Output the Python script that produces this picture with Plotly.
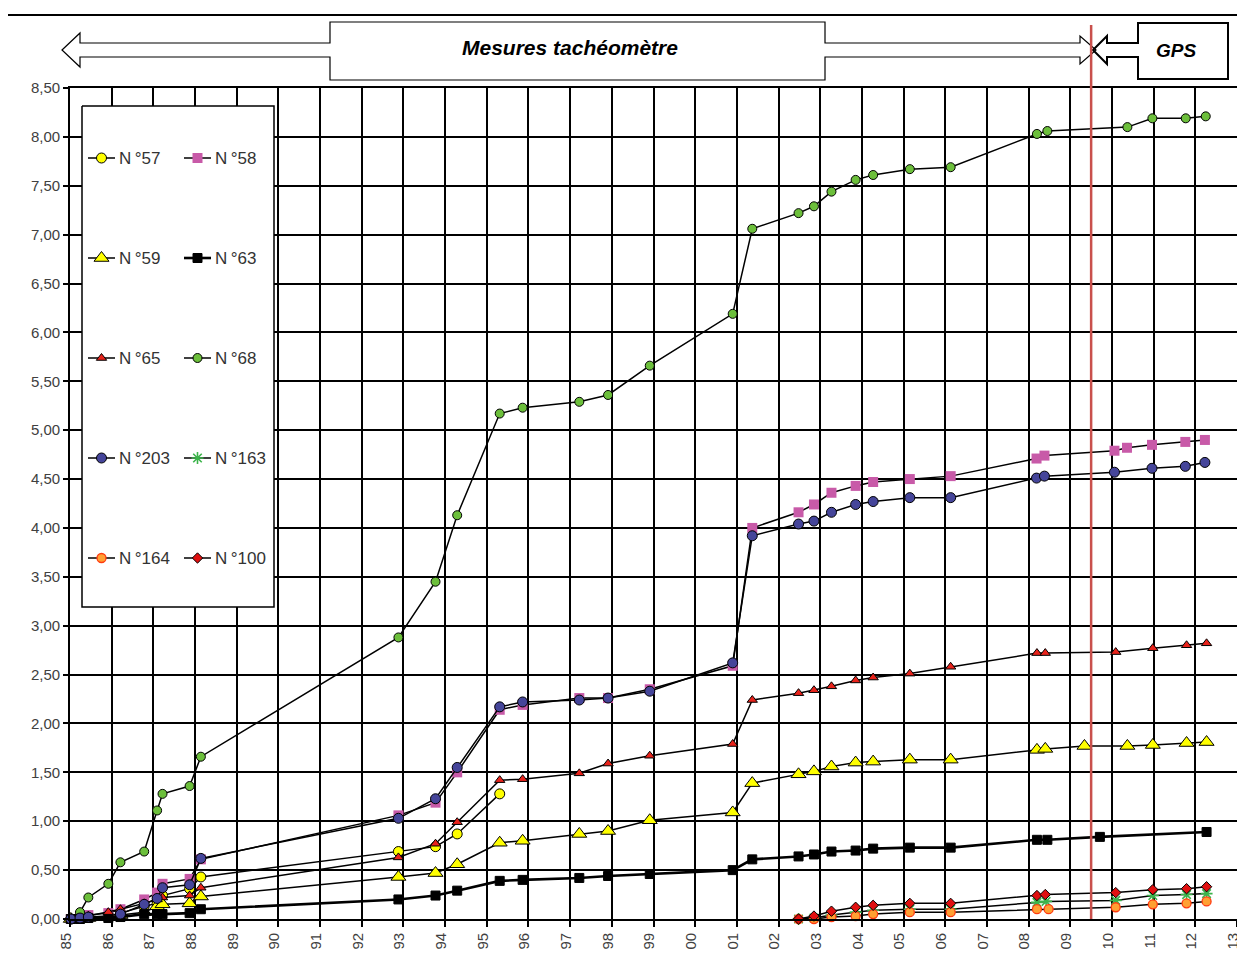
import plotly.graph_objects as go

# ---------------- data ----------------
TICK_YEARS = [1985, 1986, 1987, 1988, 1989, 1990, 1991, 1992, 1993, 1994, 1995, 1996, 1997, 1998,
              1999, 2000, 2001, 2002, 2003, 2004, 2005, 2006, 2007, 2008, 2009, 2010, 2011, 2012, 2013]
TICK_TEXT = ["85", "86", "87", "88", "89", "90", "91", "92", "93", "94", "95", "96", "97", "98",
             "99", "00", "01", "02", "03", "04", "05", "06", "07", "08", "09", "10", "11", "12", "13"]
Y_TICKS = [0.0, 0.5, 1.0, 1.5, 2.0, 2.5, 3.0, 3.5, 4.0, 4.5, 5.0, 5.5, 6.0, 6.5, 7.0, 7.5, 8.0, 8.5]

EARLY_DATES = [1985.02, 1985.24, 1985.44, 1985.92, 1986.21, 1986.78, 1987.09, 1987.22, 1987.87, 1988.14]
MID_DATES = [1992.88, 1993.77, 1994.29, 1995.31, 1995.86, 1997.22, 1997.91, 1998.91, 2000.90, 2001.37]
LATE_DATES = [2002.48, 2002.85, 2003.27, 2003.85, 2004.27, 2005.15, 2006.13]

N57_X = EARLY_DATES + MID_DATES[:4]
N57_Y = [0.00, 0.01, 0.02, 0.03, 0.06, 0.13, 0.16, 0.24, 0.31, 0.43, 0.69, 0.74, 0.87, 1.28]

N58_X = EARLY_DATES + MID_DATES + LATE_DATES + [2008.19, 2008.38, 2010.06, 2010.36, 2010.96, 2011.76, 2012.23]
N58_Y = [0.00, 0.03, 0.04, 0.06, 0.10, 0.20, 0.27, 0.36, 0.41, 0.61,
         1.06, 1.19, 1.50, 2.14, 2.19, 2.26, 2.26, 2.35, 2.59, 4.00,
         4.16, 4.24, 4.36, 4.43, 4.47, 4.50, 4.53,
         4.71, 4.74, 4.79, 4.82, 4.85, 4.88, 4.90]

N59_X = EARLY_DATES + MID_DATES + LATE_DATES + [2008.20, 2008.40, 2009.34, 2010.37, 2010.98, 2011.79, 2012.27]
N59_Y = [0.00, 0.01, 0.01, 0.02, 0.04, 0.07, 0.13, 0.15, 0.16, 0.23,
         0.43, 0.47, 0.56, 0.78, 0.80, 0.87, 0.90, 1.01, 1.09, 1.39,
         1.48, 1.51, 1.56, 1.60, 1.61, 1.63, 1.63,
         1.73, 1.74, 1.77, 1.77, 1.78, 1.80, 1.81]

N63_X = EARLY_DATES + MID_DATES + LATE_DATES + [2008.20, 2008.45, 2009.71, 2012.27]
N63_Y = [0.00, 0.00, 0.01, 0.01, 0.02, 0.05, 0.05, 0.05, 0.06, 0.10,
         0.20, 0.24, 0.29, 0.39, 0.40, 0.42, 0.44, 0.46, 0.50, 0.61,
         0.64, 0.66, 0.69, 0.70, 0.72, 0.73, 0.73,
         0.81, 0.81, 0.84, 0.89]

N65_X = EARLY_DATES + MID_DATES + LATE_DATES + [2008.20, 2008.40, 2010.09, 2010.98, 2011.79, 2012.27]
N65_Y = [0.00, 0.01, 0.03, 0.07, 0.10, 0.16, 0.20, 0.22, 0.24, 0.32,
         0.63, 0.77, 0.99, 1.42, 1.43, 1.49, 1.59, 1.67, 1.79, 2.24,
         2.31, 2.34, 2.38, 2.44, 2.47, 2.51, 2.58,
         2.72, 2.72, 2.73, 2.77, 2.80, 2.82]

N68_X = EARLY_DATES + MID_DATES + LATE_DATES + [2008.20, 2008.45, 2010.37, 2010.97, 2011.77, 2012.25]
N68_Y = [0.00, 0.07, 0.22, 0.36, 0.58, 0.69, 1.11, 1.28, 1.36, 1.66,
         2.88, 3.45, 4.13, 5.17, 5.23, 5.29, 5.36, 5.66, 6.19, 7.06,
         7.22, 7.29, 7.44, 7.56, 7.61, 7.67, 7.69,
         8.03, 8.06, 8.10, 8.19, 8.19, 8.21]

N203_X = EARLY_DATES + MID_DATES + LATE_DATES + [2008.19, 2008.38, 2010.06, 2010.96, 2011.76, 2012.23]
N203_Y = [0.00, 0.01, 0.02, -0.01, 0.05, 0.15, 0.21, 0.32, 0.35, 0.62,
          1.03, 1.23, 1.55, 2.17, 2.22, 2.24, 2.26, 2.33, 2.62, 3.92,
          4.04, 4.07, 4.16, 4.24, 4.27, 4.31, 4.31,
          4.51, 4.53, 4.57, 4.61, 4.63, 4.67]

N163_X = LATE_DATES + [2008.20, 2008.42, 2010.09, 2010.98, 2011.79, 2012.27]
N163_Y = [0.00, 0.01, 0.04, 0.07, 0.09, 0.10, 0.10, 0.17, 0.18, 0.19, 0.24, 0.25, 0.26]

N164_X = LATE_DATES + [2008.20, 2008.48, 2010.09, 2010.98, 2011.79, 2012.27]
N164_Y = [0.00, 0.00, 0.02, 0.03, 0.05, 0.07, 0.07, 0.10, 0.10, 0.12, 0.15, 0.16, 0.18]

N100_X = LATE_DATES + [2008.20, 2008.40, 2010.09, 2010.98, 2011.79, 2012.27]
N100_Y = [0.00, 0.03, 0.08, 0.12, 0.14, 0.16, 0.16, 0.24, 0.25, 0.27, 0.30, 0.31, 0.33]

GPS_START = 2009.5

SERIES = [
    ("N°57", N57_X, N57_Y),
    ("N°58", N58_X, N58_Y),
    ("N°59", N59_X, N59_Y),
    ("N°63", N63_X, N63_Y),
    ("N°65", N65_X, N65_Y),
    ("N°68", N68_X, N68_Y),
    ("N°203", N203_X, N203_Y),
    ("N°163", N163_X, N163_Y),
    ("N°164", N164_X, N164_Y),
    ("N°100", N100_X, N100_Y),
]

# ---------------- styles ----------------
STYLE = {
    "N°57": dict(symbol="circle", size=10, color="#ffff00", line=dict(color="#000", width=1), lw=1.5),
    "N°58": dict(symbol="square", size=10, color="#c85aa8", line=dict(color="#c85aa8", width=0), lw=1.5),
    "N°59": dict(symbol="triangle-up", size=13, color="#ffff00", line=dict(color="#000", width=1), lw=1.5),
    "N°63": dict(symbol="square", size=9, color="#000000", line=dict(color="#000", width=1), lw=2.6),
    "N°65": dict(symbol="triangle-up", size=9, color="#e8231b", line=dict(color="#000", width=1), lw=1.5),
    "N°68": dict(symbol="circle", size=9, color="#6cbf3b", line=dict(color="#000", width=1), lw=1.5),
    "N°203": dict(symbol="circle", size=10, color="#45459a", line=dict(color="#000", width=1), lw=1.5),
    "N°163": dict(symbol="asterisk-open", size=10, color="#3cb44b", line=dict(color="#3cb44b", width=1.6), lw=1.5),
    "N°164": dict(symbol="circle", size=9, color="#ffa033", line=dict(color="#ff3a10", width=1.3), lw=1.5),
    "N°100": dict(symbol="diamond", size=8, color="#e01010", line=dict(color="#000", width=1), lw=1.5),
}

# page geometry: the html body adds an 8 px offset
OFF = 8
PAGE_W, PAGE_H = 1245, 965
PL, PR, PT, PB = 70, 1237, 88, 919          # plot area in page pixels
W, H = PAGE_W - OFF, PAGE_H - OFF
L, T = PL - OFF, PT - OFF
R, B = W - (PR - OFF), H - (PB - OFF)
PW, PH = PR - PL, PB - PT


def px_x(px):
    return (px - PL) / PW


def px_y(py):
    return (PB - py) / PH


def pp(px, py):
    return "%.5f,%.5f" % (px_x(px), px_y(py))


fig = go.Figure()

for name, xs, ys in SERIES:
    s = STYLE[name]
    fig.add_trace(go.Scatter(
        x=xs, y=ys, mode="lines+markers", name=name, showlegend=False,
        cliponaxis=False, hoverinfo="skip",
        line=dict(color="#000", width=s["lw"]),
        marker=dict(symbol=s["symbol"], size=s["size"], color=s["color"], line=s["line"]),
    ))

# ---------------- custom legend box (pixel-coordinate overlay axes) ----------------
fig.add_trace(go.Scatter(
    x=[82, 274, 274, 82, 82], y=[106, 106, 607, 607, 106], xaxis="x2", yaxis="y2",
    mode="lines", fill="toself", fillcolor="white", line=dict(color="#000", width=1.5),
    showlegend=False, hoverinfo="skip"))

annotations = []
rows = [158, 258, 358, 458, 558]
cols = [(88, 115, 117), (184, 211, 213)]
for i, (name, xs, ys) in enumerate(SERIES):
    s = STYLE[name]
    r, c = divmod(i, 2)
    x0, x1, xt = cols[c]
    yy = rows[r]
    fig.add_trace(go.Scatter(
        x=[x0, (x0 + x1) / 2, x1], y=[yy, yy, yy], xaxis="x2", yaxis="y2",
        mode="lines+markers", showlegend=False, hoverinfo="skip", cliponaxis=False,
        line=dict(color="#000", width=s["lw"]),
        marker=dict(symbol=s["symbol"], size=s["size"], color=s["color"], line=s["line"],
                    opacity=[0, 1, 0])))
    label = name.replace("N°", "N\u2009°")
    annotations.append(dict(x=xt, y=yy, xref="x2", yref="y2", text=label, showarrow=False,
                            xanchor="left", yanchor="middle",
                            font=dict(family="Liberation Sans, Arial", size=17, color="#333")))

# ---------------- header arrows ----------------
shapes = []
shapes.append(dict(type="line", xref="paper", yref="paper",
                   x0=px_x(8), x1=px_x(PAGE_W), y0=px_y(15), y1=px_y(15),
                   line=dict(color="#000", width=2.2), layer="above"))

arrow_pts = [(62, 50), (80, 33), (80, 43), (330, 43), (330, 22), (825, 22), (825, 43),
             (1080, 43), (1080, 36), (1096, 50), (1080, 64), (1080, 57), (825, 57),
             (825, 80), (330, 80), (330, 57), (80, 57), (80, 67)]
shapes.append(dict(type="path", xref="paper", yref="paper",
                   path="M " + " L ".join(pp(*p) for p in arrow_pts) + " Z",
                   fillcolor="white", line=dict(color="#000", width=1.2), layer="above"))

gps_pts = [(1093, 50), (1107, 36), (1107, 43), (1138, 43), (1138, 23), (1228, 23),
           (1228, 79), (1138, 79), (1138, 57), (1107, 57), (1107, 64)]
shapes.append(dict(type="path", xref="paper", yref="paper",
                   path="M " + " L ".join(pp(*p) for p in gps_pts) + " Z",
                   fillcolor="rgba(255,255,255,0)", line=dict(color="#000", width=2), layer="above"))

# GPS start line
shapes.append(dict(type="line", xref="x", yref="paper", x0=GPS_START, x1=GPS_START,
                   y0=0, y1=px_y(25), line=dict(color="#c9504c", width=2.5), layer="above"))

annotations.append(dict(xref="paper", yref="paper", x=px_x(570), y=px_y(47),
                        text="<b><i>Mesures tachéomètre</i></b>", showarrow=False,
                        xanchor="center", yanchor="middle",
                        font=dict(family="Liberation Sans, Arial", size=21, color="#000")))
annotations.append(dict(xref="paper", yref="paper", x=px_x(1176), y=px_y(50),
                        text="<b><i>GPS</i></b>", showarrow=False,
                        xanchor="center", yanchor="middle",
                        font=dict(family="Liberation Sans, Arial", size=19, color="#000")))

fig.update_layout(
    width=W, height=H, margin=dict(l=L, r=R, t=T, b=B, pad=0, autoexpand=False),
    paper_bgcolor="white", plot_bgcolor="white",
    separators=", ",
    font=dict(family="Liberation Sans, Arial", color="#404040", size=14),
    shapes=shapes, annotations=annotations,
    xaxis=dict(range=[1985, 2013], tickvals=TICK_YEARS, ticktext=TICK_TEXT, tickangle=-90,
               automargin=False, ticklabelshift=-4,
               showgrid=True, gridcolor="#000", gridwidth=1.6, zeroline=False,
               showline=True, linecolor="#000", linewidth=1.6, mirror=True,
               ticks="outside", ticklen=6, tickcolor="#000", tickwidth=1.5,
               tickfont=dict(size=15, color="#404040"), fixedrange=True),
    yaxis=dict(range=[0, 8.5], tickvals=Y_TICKS, tickformat=".2f",
               automargin=False,
               showgrid=True, gridcolor="#000", gridwidth=1.6, zeroline=False,
               showline=True, linecolor="#000", linewidth=1.6, mirror=True,
               ticks="outside", ticklen=5, tickcolor="#000", tickwidth=1.5,
               tickfont=dict(size=15, color="#404040"), fixedrange=True),
    xaxis2=dict(overlaying="x", range=[PL, PR], visible=False, fixedrange=True, automargin=False),
    yaxis2=dict(overlaying="y", range=[PB, PT], visible=False, fixedrange=True, automargin=False),
)

fig.write_html("out.html")
